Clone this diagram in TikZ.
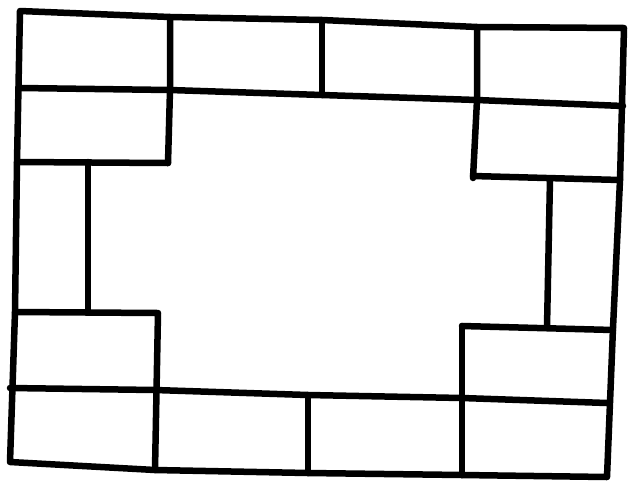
\documentclass[tikz,border=0pt]{standalone}
\usepackage{tikz}

\begin{document}
\begin{tikzpicture}[
  x=1pt, y=-1pt,
  wall/.style={draw, line width=6.5pt, line cap=round, line join=round}
]
\useasboundingbox (0,0) rectangle (629,483);
% outer frame
\draw[wall] (20,11) -- (170,17) -- (322,20) -- (477,27) -- (624,28) -- (620,180) -- (613,328) -- (607,477)
  -- (462,475) -- (308,473) -- (155,470) -- (10,462) -- (15,312) -- (17,162) -- cycle;
% top row
\draw[wall] (20,88) -- (170,90) -- (322,95) -- (477,100) -- (623,106);
\draw[wall] (170,17) -- (170,90) -- (168,163);
\draw[wall] (322,20) -- (322,95);
\draw[wall] (477,27) -- (477,100) -- (473,178);
\draw[wall] (17,162) -- (168,163);
\draw[wall] (473,176) -- (620,180);
% middle sides
\draw[wall] (88,162) -- (88,312);
\draw[wall] (550,179) -- (547,327);
% bottom row
\draw[wall] (15,312) -- (158,313) -- (155,470);
\draw[wall] (462,326) -- (613,330);
\draw[wall] (462,326) -- (462,475);
\draw[wall] (10,388) -- (155,390) -- (308,395) -- (462,398) -- (607,403);
\draw[wall] (308,395) -- (308,473);
\end{tikzpicture}
\end{document}
